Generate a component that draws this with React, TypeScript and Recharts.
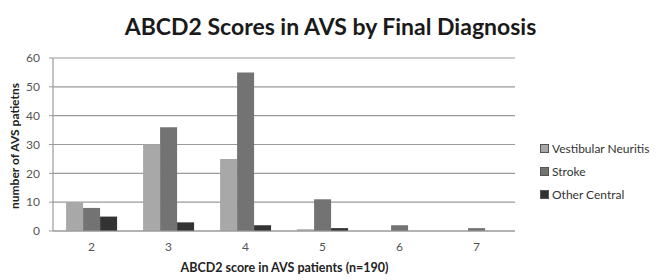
import React from "react";
import { BarChart, Bar, XAxis, YAxis, CartesianGrid } from "recharts";

const scores = ["2", "3", "4", "5", "6", "7"];
const vestibularNeuritis = [10, 30, 25, 0.6, 0, 0];
const stroke = [8, 36, 55, 11, 2, 1];
const otherCentral = [5, 3, 2, 1, 0, 0];
const yTicks = [0, 10, 20, 30, 40, 50, 60];
const seriesNames = ["Vestibular Neuritis", "Stroke", "Other Central"];
const seriesColors = ["#a8a8a8", "#737373", "#333333"];

const data = scores.map((s, i) => ({
  score: s,
  vn: vestibularNeuritis[i],
  stroke: stroke[i],
  oc: otherCentral[i],
}));

const font = "Lato, 'Open Sans', sans-serif";

export default function App() {
  return (
    <div style={{ position: "absolute", left: 0, top: 0, width: 657, height: 280, background: "#fff", fontFamily: font, overflow: "hidden" }}>
      <div style={{ position: "absolute", left: 0, width: 657, top: 12, lineHeight: "28px", textAlign: "center", paddingLeft: 2, fontSize: 23, fontWeight: 700, color: "#1a1a1a" }}>
        ABCD2 Scores in AVS by Final Diagnosis
      </div>
      <BarChart
        width={657}
        height={280}
        data={data}
        margin={{ top: 58, right: 142, bottom: 19, left: 0 }}
        barCategoryGap="17%"
        barGap={0}
      >
        <CartesianGrid vertical={false} stroke="#9a9a9a" strokeWidth={1.2} />
        <XAxis
          dataKey="score"
          height={30}
          axisLine={{ stroke: "#9a9a9a", strokeWidth: 1.2 }}
          tickLine={false}
          tick={{ fill: "#555", fontSize: 12, fontFamily: font }}
          tickMargin={5}
        />
        <YAxis
          width={53}
          domain={[0, 60]}
          ticks={yTicks}
          axisLine={{ stroke: "#9a9a9a", strokeWidth: 1.2 }}
          tickLine={{ stroke: "#9a9a9a" }}
          tickSize={4}
          tickMargin={9}
          tick={{ fill: "#555", fontSize: 12, fontFamily: font }}
        />
        <Bar dataKey="vn" name={seriesNames[0]} fill={seriesColors[0]} stroke="#666" strokeWidth={0.8} isAnimationActive={false} />
        <Bar dataKey="stroke" name={seriesNames[1]} fill={seriesColors[1]} stroke="#444" strokeWidth={0.8} isAnimationActive={false} />
        <Bar dataKey="oc" name={seriesNames[2]} fill={seriesColors[2]} stroke="#222" strokeWidth={0.8} isAnimationActive={false} />
      </BarChart>
      <div style={{ position: "absolute", left: 540, top: 137 }}>
        {seriesNames.map((n, i) => (
          <div key={n} style={{ display: "flex", alignItems: "center", height: 23, fontSize: 12, color: "#333", whiteSpace: "nowrap" }}>
            <span style={{ display: "inline-block", width: 7, height: 7, background: seriesColors[i], border: "0.5px solid #555", marginRight: 3 }} />
            {n}
          </div>
        ))}
      </div>
      <div style={{ position: "absolute", left: 0, width: 569, top: 260, textAlign: "center", fontSize: 12.5, fontWeight: 700, color: "#222" }}>
        ABCD2 score in AVS patients (n=190)
      </div>
      <div style={{ position: "absolute", left: 14, top: 146, width: 0, height: 0 }}>
        <div style={{ position: "absolute", transform: "translate(-50%, -50%) rotate(-90deg)", whiteSpace: "nowrap", fontSize: 12, fontWeight: 700, color: "#222" }}>
          number of AVS patietns
        </div>
      </div>
    </div>
  );
}
